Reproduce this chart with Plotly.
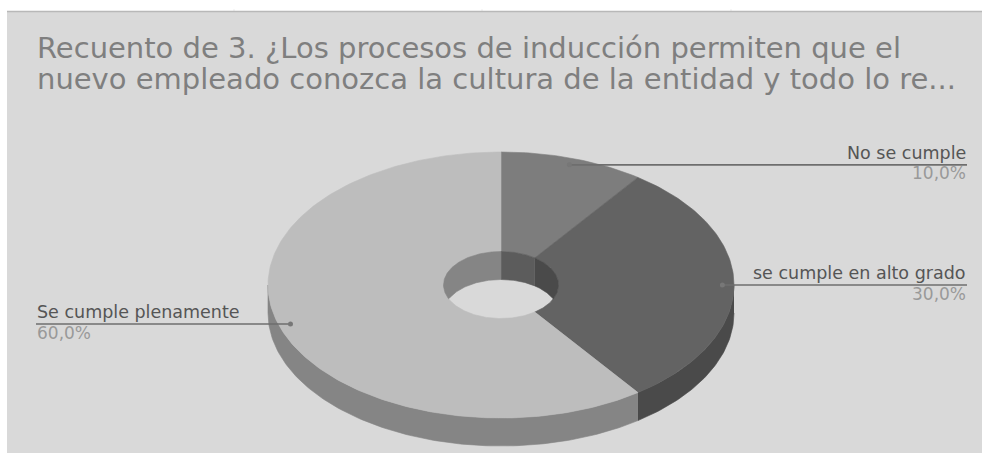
import numpy as np
import plotly.graph_objects as go

# Survey results
categories = ["No se cumple", "se cumple en alto grado", "Se cumple plenamente"]
values = [10.0, 30.0, 60.0]
percent_labels = ["10,0%", "30,0%", "60,0%"]
title_lines = [
    "Recuento de 3. ¿Los procesos de inducción permiten que el",
    "nuevo empleado conozca la cultura de la entidad y todo lo re...",
]

# Tones for each slice: top face, outer/inner side walls
top_colors = ["#7d7d7d", "#636363", "#bdbdbd"]
outer_wall_colors = ["#5c5c5c", "#4a4a4a", "#858585"]
inner_wall_colors = ["#5c5c5c", "#4a4a4a", "#858585"]

BG = "#d9d9d9"
W, H = 982, 453
CX, CY, RX, RY = 501, 285, 233, 133
HOLE_RX, HOLE_RY = 57.5, 33.5
DEPTH = 28


def ell(a, rx, ry, dy=0.0):
    """Point on an ellipse; angles run clockwise from twelve o'clock."""
    return CX + rx * np.sin(a), CY - ry * np.cos(a) + dy


def arc(a0, a1, n=None):
    n = n or max(int(abs(a1 - a0) * 60), 2)
    return np.linspace(a0, a1, n)


def clip_range(a0, a1, lo, hi):
    """Overlap of the slice [a0, a1] with [lo, hi], or None."""
    s, e = max(a0, lo), min(a1, hi)
    return (s, e) if e > s else None


fig = go.Figure()


def poly(x, y, color):
    fig.add_trace(go.Scatter(
        x=np.asarray(x), y=np.asarray(y), mode="lines", fill="toself",
        fillcolor=color, line=dict(color=color, width=0.6),
        hoverinfo="skip", showlegend=False,
    ))


# Slice boundaries, clockwise from the top
total = sum(values)
edges = np.cumsum([0.0] + values) / total * 2 * np.pi

# Outer side wall (front half only)
for i in range(len(values)):
    seg = clip_range(edges[i], edges[i + 1], np.pi / 2, 3 * np.pi / 2)
    if seg:
        a = arc(*seg)
        xt, yt = ell(a, RX, RY)
        xb, yb = ell(a[::-1], RX, RY, DEPTH)
        poly(np.r_[xt, xb], np.r_[yt, yb], outer_wall_colors[i])

# Top faces as annular sectors
for i in range(len(values)):
    a = arc(edges[i], edges[i + 1])
    xo, yo = ell(a, RX, RY)
    xi, yi = ell(a[::-1], HOLE_RX, HOLE_RY)
    poly(np.r_[xo, xi, xo[0]], np.r_[yo, yi, yo[0]], top_colors[i])

# Inner wall of the hole, visible on its far side; the lower edge is cut
# off where it meets the near rim of the hole
for i in range(len(values)):
    for lo, hi in ((-np.pi / 2, np.pi / 2), (3 * np.pi / 2, 5 * np.pi / 2)):
        seg = clip_range(edges[i], edges[i + 1], lo, hi)
        if seg:
            a = arc(*seg)
            xt, yt = ell(a, HOLE_RX, HOLE_RY)
            yb = np.minimum(yt + DEPTH, CY + HOLE_RY * np.cos(a))
            poly(np.r_[xt, xt[::-1]], np.r_[yt, yb[::-1]], inner_wall_colors[i])

# Leader lines from each slice to its label
mids = (edges[:-1] + edges[1:]) / 2
LABEL_LEFT, LABEL_RIGHT = 36, 967
anns = []
for i, name in enumerate(categories):
    px, py = ell(mids[i], RX * 0.95, RY * 0.95)
    right = np.sin(mids[i]) > 0
    end = LABEL_RIGHT if right else LABEL_LEFT
    fig.add_trace(go.Scatter(
        x=[px, end], y=[py, py], mode="lines",
        line=dict(color="#6e6e6e", width=1.6),
        hoverinfo="skip", showlegend=False,
    ))
    fig.add_trace(go.Scatter(
        x=[px], y=[py], mode="markers",
        marker=dict(color="#777777", size=5),
        hoverinfo="skip", showlegend=False,
    ))
    anchor = "right" if right else "left"
    anns.append(dict(x=end, y=py - 1, text=name, xanchor=anchor, yanchor="bottom",
                     showarrow=False, borderpad=0,
                     font=dict(family="DejaVu Sans", size=17.5, color="#555555")))
    anns.append(dict(x=end, y=py - 2.5, text=percent_labels[i], xanchor=anchor, yanchor="top",
                     showarrow=False, borderpad=0,
                     font=dict(family="DejaVu Sans", size=17, color="#999999")))

# Two-line chart heading
for line, ymid in zip(title_lines, (47.5, 79)):
    anns.append(dict(x=36, y=ymid, text=line, xanchor="left", yanchor="middle",
                     showarrow=False, borderpad=0,
                     font=dict(family="DejaVu Sans", size=29, color="#7f7f7f")))

shapes = [
    dict(type="rect", x0=7, x1=W, y0=12, y1=H, layer="below",
         fillcolor=BG, line=dict(width=0)),
    dict(type="line", x0=7, x1=W, y0=11.5, y1=11.5, layer="above",
         line=dict(color="#b8b8b8", width=1.5)),
]
# Faint column notches above the top rule
for notch_x in (234, 482, 731):
    shapes.append(dict(type="line", x0=notch_x, x1=notch_x, y0=9.5, y1=11, layer="above",
                       line=dict(color="#dddddd", width=1)))

fig.update_layout(
    width=W, height=H, autosize=False,
    margin=dict(l=0, r=0, t=0, b=0),
    paper_bgcolor="white", plot_bgcolor="white",
    xaxis=dict(range=[0, W], visible=False, fixedrange=True),
    yaxis=dict(range=[H, 0], visible=False, fixedrange=True),
    shapes=shapes, annotations=anns, showlegend=False,
)

fig.write_html("out.html", config={"displayModeBar": False})
